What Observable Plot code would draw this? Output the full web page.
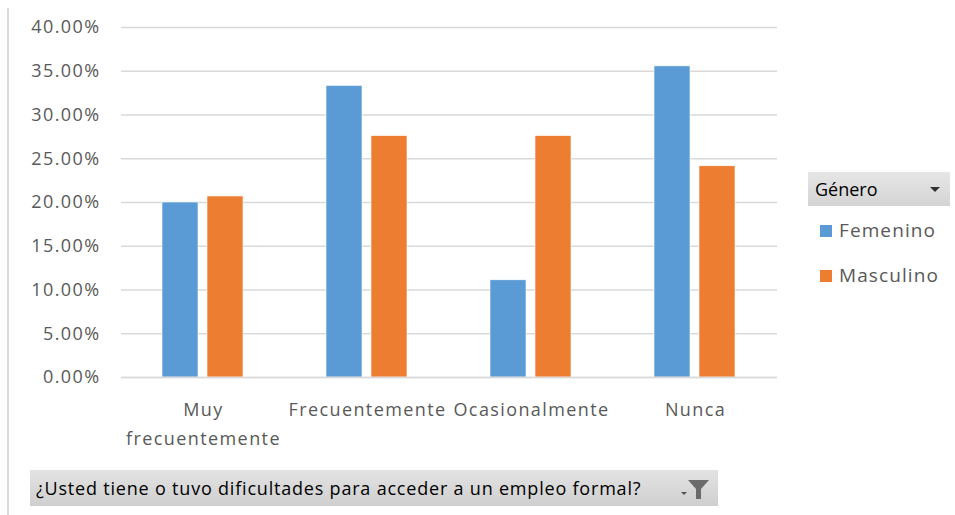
<!DOCTYPE html>
<html>
<head>
<meta charset="utf-8">
<script src="https://cdn.jsdelivr.net/npm/d3@7"></script>
<script src="https://cdn.jsdelivr.net/npm/@observablehq/plot@0.6"></script>
<style>
  html, body { margin: 0; padding: 0; background: #fff; }
  #wrap { position: relative; width: 955px; height: 515px; overflow: hidden; font-family: "Open Sans", "Noto Sans", sans-serif; }
  #sheetline { position: absolute; left: 7px; top: 8px; width: 2px; height: 507px; background: #d9d9d9; }
  #chart { position: absolute; left: 0; top: 0; }
  #chart svg text { letter-spacing: 1.4px; }
  #legend { position: absolute; left: 808px; top: 172px; width: 142px; }
  #legend .head { height: 34px; background: linear-gradient(#e6e6e6, #d4d4d4); display: flex; align-items: center; justify-content: space-between; padding: 0 10px 0 7px; font-size: 18px; color: #000; box-sizing: border-box; }
  #legend .arrow { width: 0; height: 0; border-left: 5px solid transparent; border-right: 5px solid transparent; border-top: 5px solid #333; }
  #legend .item { display: flex; align-items: center; font-size: 19px; letter-spacing: 1.1px; color: #595959; position: absolute; left: 12px; line-height: 1; }
  #legend .sw { width: 12px; height: 12px; margin-right: 7px; }
  #filter { position: absolute; left: 30px; top: 470px; width: 688px; height: 36px; background: linear-gradient(#e3e3e3, #cfcfcf); display: flex; align-items: center; box-sizing: border-box; padding-left: 6px; font-size: 18px; letter-spacing: 0.8px; color: #000; }
  #filter .icon { position: absolute; right: 8px; top: 8px; }
</style>
</head>
<body>
<div id="wrap">
  <div id="sheetline"></div>
  <div id="chart"></div>
  <div id="legend"></div>
  <div id="filter"></div>
</div>
<script>
const categories = ["Muy frecuentemente", "Frecuentemente", "Ocasionalmente", "Nunca"];
const genders = ["Femenino", "Masculino"];
const femenino = [20.00, 33.33, 11.11, 35.56];
const masculino = [20.69, 27.59, 27.59, 24.14];
const yTicks = [0, 5, 10, 15, 20, 25, 30, 35, 40];
const colors = ["#5B9BD5", "#ED7D31"];
const legendTitle = "Género";
const filterText = "¿Usted tiene o tuvo dificultades para acceder a un empleo formal?";
const tickLabels = {"Muy frecuentemente": "Muy\nfrecuentemente"};

const data = [];
categories.forEach((c, i) => {
  data.push({category: c, gender: genders[0], value: femenino[i]});
  data.push({category: c, gender: genders[1], value: masculino[i]});
});

const chart = Plot.plot({
  width: 955,
  height: 455,
  marginLeft: 120,
  marginRight: 177,
  marginTop: 27,
  marginBottom: 78,
  style: {fontFamily: "'Open Sans', 'Noto Sans', sans-serif", fontSize: "18px", color: "#595959", background: "transparent"},
  fx: {domain: categories, padding: 0, label: null, axis: null},
  x: {domain: genders, paddingInner: 0.196, paddingOuter: 0.886, axis: null},
  y: {domain: [0, 40], label: null},
  color: {domain: genders, range: colors},
  marks: [
    Plot.gridY(yTicks, {stroke: "#d9d9d9", strokeOpacity: 1, strokeWidth: 1.5}),
    Plot.axisY(yTicks, {tickSize: 0, tickPadding: 21, tickFormat: d => d.toFixed(2) + "%", fill: "#595959", fontSize: 18, label: null}),
    Plot.barY(data, {fx: "category", x: "gender", y: "value", fill: "gender", stroke: "#fff", strokeWidth: 0.6}),
    Plot.ruleY([0], {stroke: "#d9d9d9", strokeWidth: 1.5}),
    Plot.axisFx({anchor: "bottom", tickSize: 0, tickPadding: 18, tickFormat: d => tickLabels[d] || d, lineHeight: 1.6, fill: "#595959", fontSize: 18, label: null})
  ]
});
document.getElementById("chart").appendChild(chart);

// legend
const legend = document.getElementById("legend");
const head = document.createElement("div");
head.className = "head";
head.innerHTML = `<span>${legendTitle}</span><span class="arrow"></span>`;
legend.appendChild(head);
genders.forEach((g, i) => {
  const it = document.createElement("div");
  it.className = "item";
  it.style.top = (49 + i * 45) + "px";
  it.innerHTML = `<span class="sw" style="background:${colors[i]}"></span><span>${g}</span>`;
  legend.appendChild(it);
});

// filter bar
const filter = document.getElementById("filter");
filter.innerHTML = `<span>${filterText}</span>
<svg class="icon" width="32" height="22" viewBox="0 0 32 22">
  <path d="M3 14 L9 14 L6 17 Z" fill="#555"/>
  <path d="M10 2 L31 2 L23 11 L23 21 L18 21 L18 11 Z" fill="#6b6b6b"/>
</svg>`;
</script>
</body>
</html>
